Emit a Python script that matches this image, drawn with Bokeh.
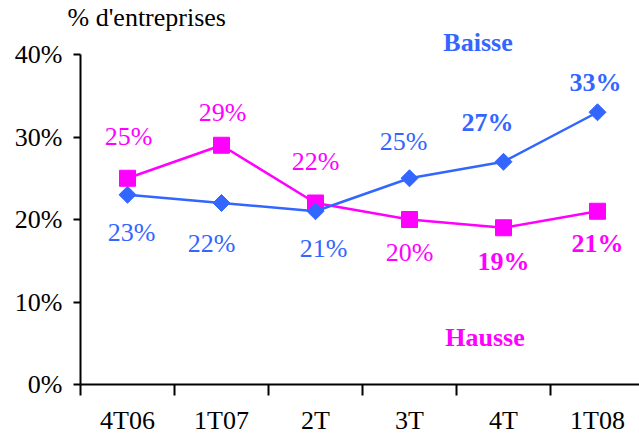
import numpy as np
from bokeh.plotting import figure
from bokeh.models import Range1d, FixedTicker, ColumnDataSource, Label
from bokeh.core.properties import value
from bokeh.embed import file_html
from bokeh.resources import INLINE

# ---- data ----
categories = ["4T06", "1T07", "2T", "3T", "4T", "1T08"]
baisse = [23, 22, 21, 25, 27, 33]
hausse = [25, 29, 22, 20, 19, 21]
y_ticks = [0, 10, 20, 30, 40]
y_tick_labels = ["0%", "10%", "20%", "30%", "40%"]
baisse_bold = [False, False, False, False, True, True]
hausse_bold = [False, False, False, False, True, True]

# ---- styles (label centre offsets from the marker, screen px) ----
baisse_dx = [4, -10, 8, -6, -16, -2]
baisse_dy = [38, 40, 37, -37, -39, -30]
hausse_dx = [1, 1, 0, 0, 0, 0]
hausse_dy = [-42, -33, -42, 33, 34, 32]

BLUE = "#3366FF"
MAGENTA = "#FF00FF"
FONT = "Liberation Serif"
FS = "26px"

CAT_W = 94.0        # px per category
PX_PER_UNIT = 8.25  # px per 1 %
TOP = 31
FRAME_W = 559
FRAME_H = 384 - TOP

x = np.arange(len(categories)) + 0.5

p = figure(frame_width=FRAME_W, frame_height=FRAME_H,
           x_range=Range1d(0, FRAME_W / CAT_W),
           y_range=Range1d(0, FRAME_H / PX_PER_UNIT),
           output_backend="svg", toolbar_location=None,
           min_border_left=80, min_border_right=0, min_border_top=TOP,
           min_border_bottom=0)
p.outline_line_color = None
p.xgrid.visible = False
p.ygrid.visible = False
p.background_fill_color = "white"

# title
p.title.text = "% d'entreprises"
p.title.align = "left"
p.title.offset = -13
p.title.standoff = 0
p.title.vertical_align = "bottom"
p.title.text_font = FONT
p.title.text_font_size = FS
p.title.text_font_style = "normal"
p.title.text_color = "black"

# y axis
ya = p.yaxis[0]
ya.ticker = FixedTicker(ticks=y_ticks)
ya.major_label_overrides = {t: l for t, l in zip(y_ticks, y_tick_labels)}
ya.bounds = (y_ticks[0], y_ticks[-1])
ya.axis_line_width = 2
ya.axis_line_color = "black"
ya.major_tick_line_width = 2
ya.major_tick_line_color = "black"
ya.major_tick_out = 7
ya.major_tick_in = 0
ya.minor_tick_out = 0
ya.minor_tick_in = 0
ya.major_label_standoff = 11
ya.major_label_text_font = FONT
ya.major_label_text_font_size = FS
ya.major_label_text_color = "black"

# x axis
xa = p.xaxis[0]
xa.ticker = FixedTicker(ticks=list(x), minor_ticks=list(range(len(categories) + 1)))
xa.major_label_overrides = {float(t): c for t, c in zip(x, categories)}
xa.axis_line_width = 2
xa.axis_line_color = "black"
xa.major_tick_out = 0
xa.major_tick_in = 0
xa.minor_tick_out = 11
xa.minor_tick_in = 0
xa.minor_tick_line_width = 2
xa.minor_tick_line_color = "black"
xa.major_label_standoff = 10
xa.major_label_text_font = FONT
xa.major_label_text_font_size = FS
xa.major_label_text_color = "black"

# series
src_h = ColumnDataSource(dict(
    x=x, y=hausse, lab=[f"{v}%" for v in hausse],
    dx=hausse_dx, dy=hausse_dy,
    fs=["bold" if b else "normal" for b in hausse_bold]))
src_b = ColumnDataSource(dict(
    x=x, y=baisse, lab=[f"{v}%" for v in baisse],
    dx=baisse_dx, dy=baisse_dy,
    fs=["bold" if b else "normal" for b in baisse_bold]))

p.line("x", "y", source=src_h, line_color=MAGENTA, line_width=2.5)
p.scatter("x", "y", source=src_h, marker="square", size=16,
          fill_color=MAGENTA, line_color=MAGENTA)
p.line("x", "y", source=src_b, line_color=BLUE, line_width=2.5)
p.scatter("x", "y", source=src_b, marker="square", size=12, angle=np.pi / 4,
          fill_color=BLUE, line_color=BLUE)

for src, col in ((src_h, MAGENTA), (src_b, BLUE)):
    p.text("x", "y", text="lab", source=src, x_offset="dx", y_offset="dy",
           text_align="center", text_baseline="middle",
           text_font=value(FONT), text_font_size=value(FS),
           text_font_style="fs", text_color=col)

# series names (positions in data units)
p.add_layout(Label(x=(477.5 - 80) / CAT_W, y=(384 - 42) / PX_PER_UNIT,
                   text="Baisse", text_align="center", text_baseline="middle",
                   text_font=FONT, text_font_size=FS, text_font_style="bold",
                   text_color=BLUE))
p.add_layout(Label(x=(484.5 - 80) / CAT_W, y=(384 - 337) / PX_PER_UNIT,
                   text="Hausse", text_align="center", text_baseline="middle",
                   text_font=FONT, text_font_size=FS, text_font_style="bold",
                   text_color=MAGENTA))

open("out.html", "w").write(file_html(p, INLINE))
